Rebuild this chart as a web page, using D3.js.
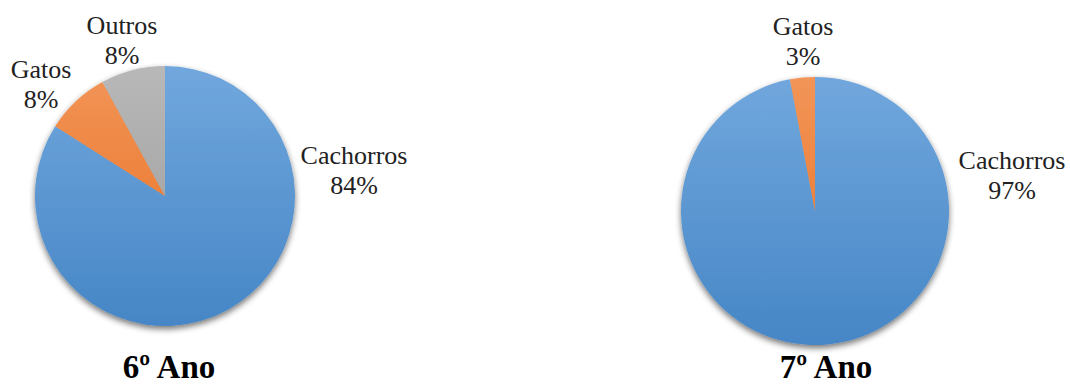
<!DOCTYPE html>
<html>
<head>
<meta charset="utf-8">
<script src="https://cdn.jsdelivr.net/npm/d3@7"></script>
<style>
  body { margin: 0; background: #fff; }
</style>
</head>
<body>
<svg id="chart"></svg>
<script>
const categories6 = ['Cachorros', 'Gatos', 'Outros'];
const values6 = [84, 8, 8];
const categories7 = ['Cachorros', 'Gatos'];
const values7 = [97, 3];
const titles = ['6º Ano', '7º Ano'];

const width = 1070;
const height = 385;
const serif = "'Liberation Serif', 'Times New Roman', Times, serif";

const svg = d3.select('#chart')
  .attr('width', width)
  .attr('height', height)
  .attr('font-family', serif);

const defs = svg.append('defs');

const palette = {
  Cachorros: ['#71a7dd', '#4686c6'],
  Gatos: ['#f29558', '#e86d1e'],
  Outros: ['#b8b8b8', '#999999']
};

const shadow = defs.append('filter')
  .attr('id', 'shadow')
  .attr('x', '-20%').attr('y', '-20%')
  .attr('width', '140%').attr('height', '140%');
shadow.append('feGaussianBlur').attr('in', 'SourceAlpha').attr('stdDeviation', 3);
shadow.append('feOffset').attr('dx', 0).attr('dy', 3).attr('result', 'blur');
shadow.append('feComponentTransfer').append('feFuncA').attr('type', 'linear').attr('slope', 0.55);
const merge = shadow.append('feMerge');
merge.append('feMergeNode');
merge.append('feMergeNode').attr('in', 'SourceGraphic');

// per chart layout: centre, radius, label offsets (first baseline) and title
const charts = [{
  cats: categories6, vals: values6, title: titles[0],
  cx: 165, cy: 196, r: 130, titleX: 169,
  labels: {Cachorros: [189, -32], Gatos: [-124, -118], Outros: [-43, -162]}
}, {
  cats: categories7, vals: values7, title: titles[1],
  cx: 815, cy: 211, r: 134, titleX: 826,
  labels: {Cachorros: [197, -42], Gatos: [-12, -176]}
}];

const pie = d3.pie().sort(null).value(d => d.value);
const fmt = d => `${d}%`;

charts.forEach((c, i) => {
  const data = c.cats.map((k, j) => ({key: k, value: c.vals[j]}));
  const arc = d3.arc().innerRadius(0).outerRadius(c.r);

  c.cats.forEach(k => {
    const g = defs.append('linearGradient')
      .attr('id', `grad-${i}-${k}`)
      .attr('gradientUnits', 'userSpaceOnUse')
      .attr('x1', 0).attr('x2', 0)
      .attr('y1', -c.r).attr('y2', c.r);
    g.append('stop').attr('offset', '0%').attr('stop-color', palette[k][0]);
    g.append('stop').attr('offset', '100%').attr('stop-color', palette[k][1]);
  });

  const g = svg.append('g')
    .attr('transform', `translate(${c.cx}, ${c.cy})`);

  g.append('g')
    .attr('filter', 'url(#shadow)')
    .selectAll('path')
    .data(pie(data))
    .join('path')
    .attr('d', arc)
    .attr('fill', d => `url(#grad-${i}-${d.data.key})`);

  const lbl = g.selectAll('.lbl')
    .data(data)
    .join('text')
    .attr('class', 'lbl')
    .attr('text-anchor', 'middle')
    .attr('font-family', serif)
    .attr('font-size', 26)
    .attr('fill', '#222')
    .attr('transform', d => `translate(${c.labels[d.key][0]}, ${c.labels[d.key][1]})`);
  lbl.append('tspan').attr('x', 0).attr('y', 0).text(d => d.key);
  lbl.append('tspan').attr('x', 0).attr('y', 30).text(d => fmt(d.value));

  svg.append('text')
    .attr('x', c.titleX)
    .attr('y', 378)
    .attr('text-anchor', 'middle')
    .attr('font-family', serif)
    .attr('font-size', 33)
    .attr('font-weight', 'bold')
    .attr('fill', '#000')
    .text(c.title);
});
</script>
</body>
</html>
